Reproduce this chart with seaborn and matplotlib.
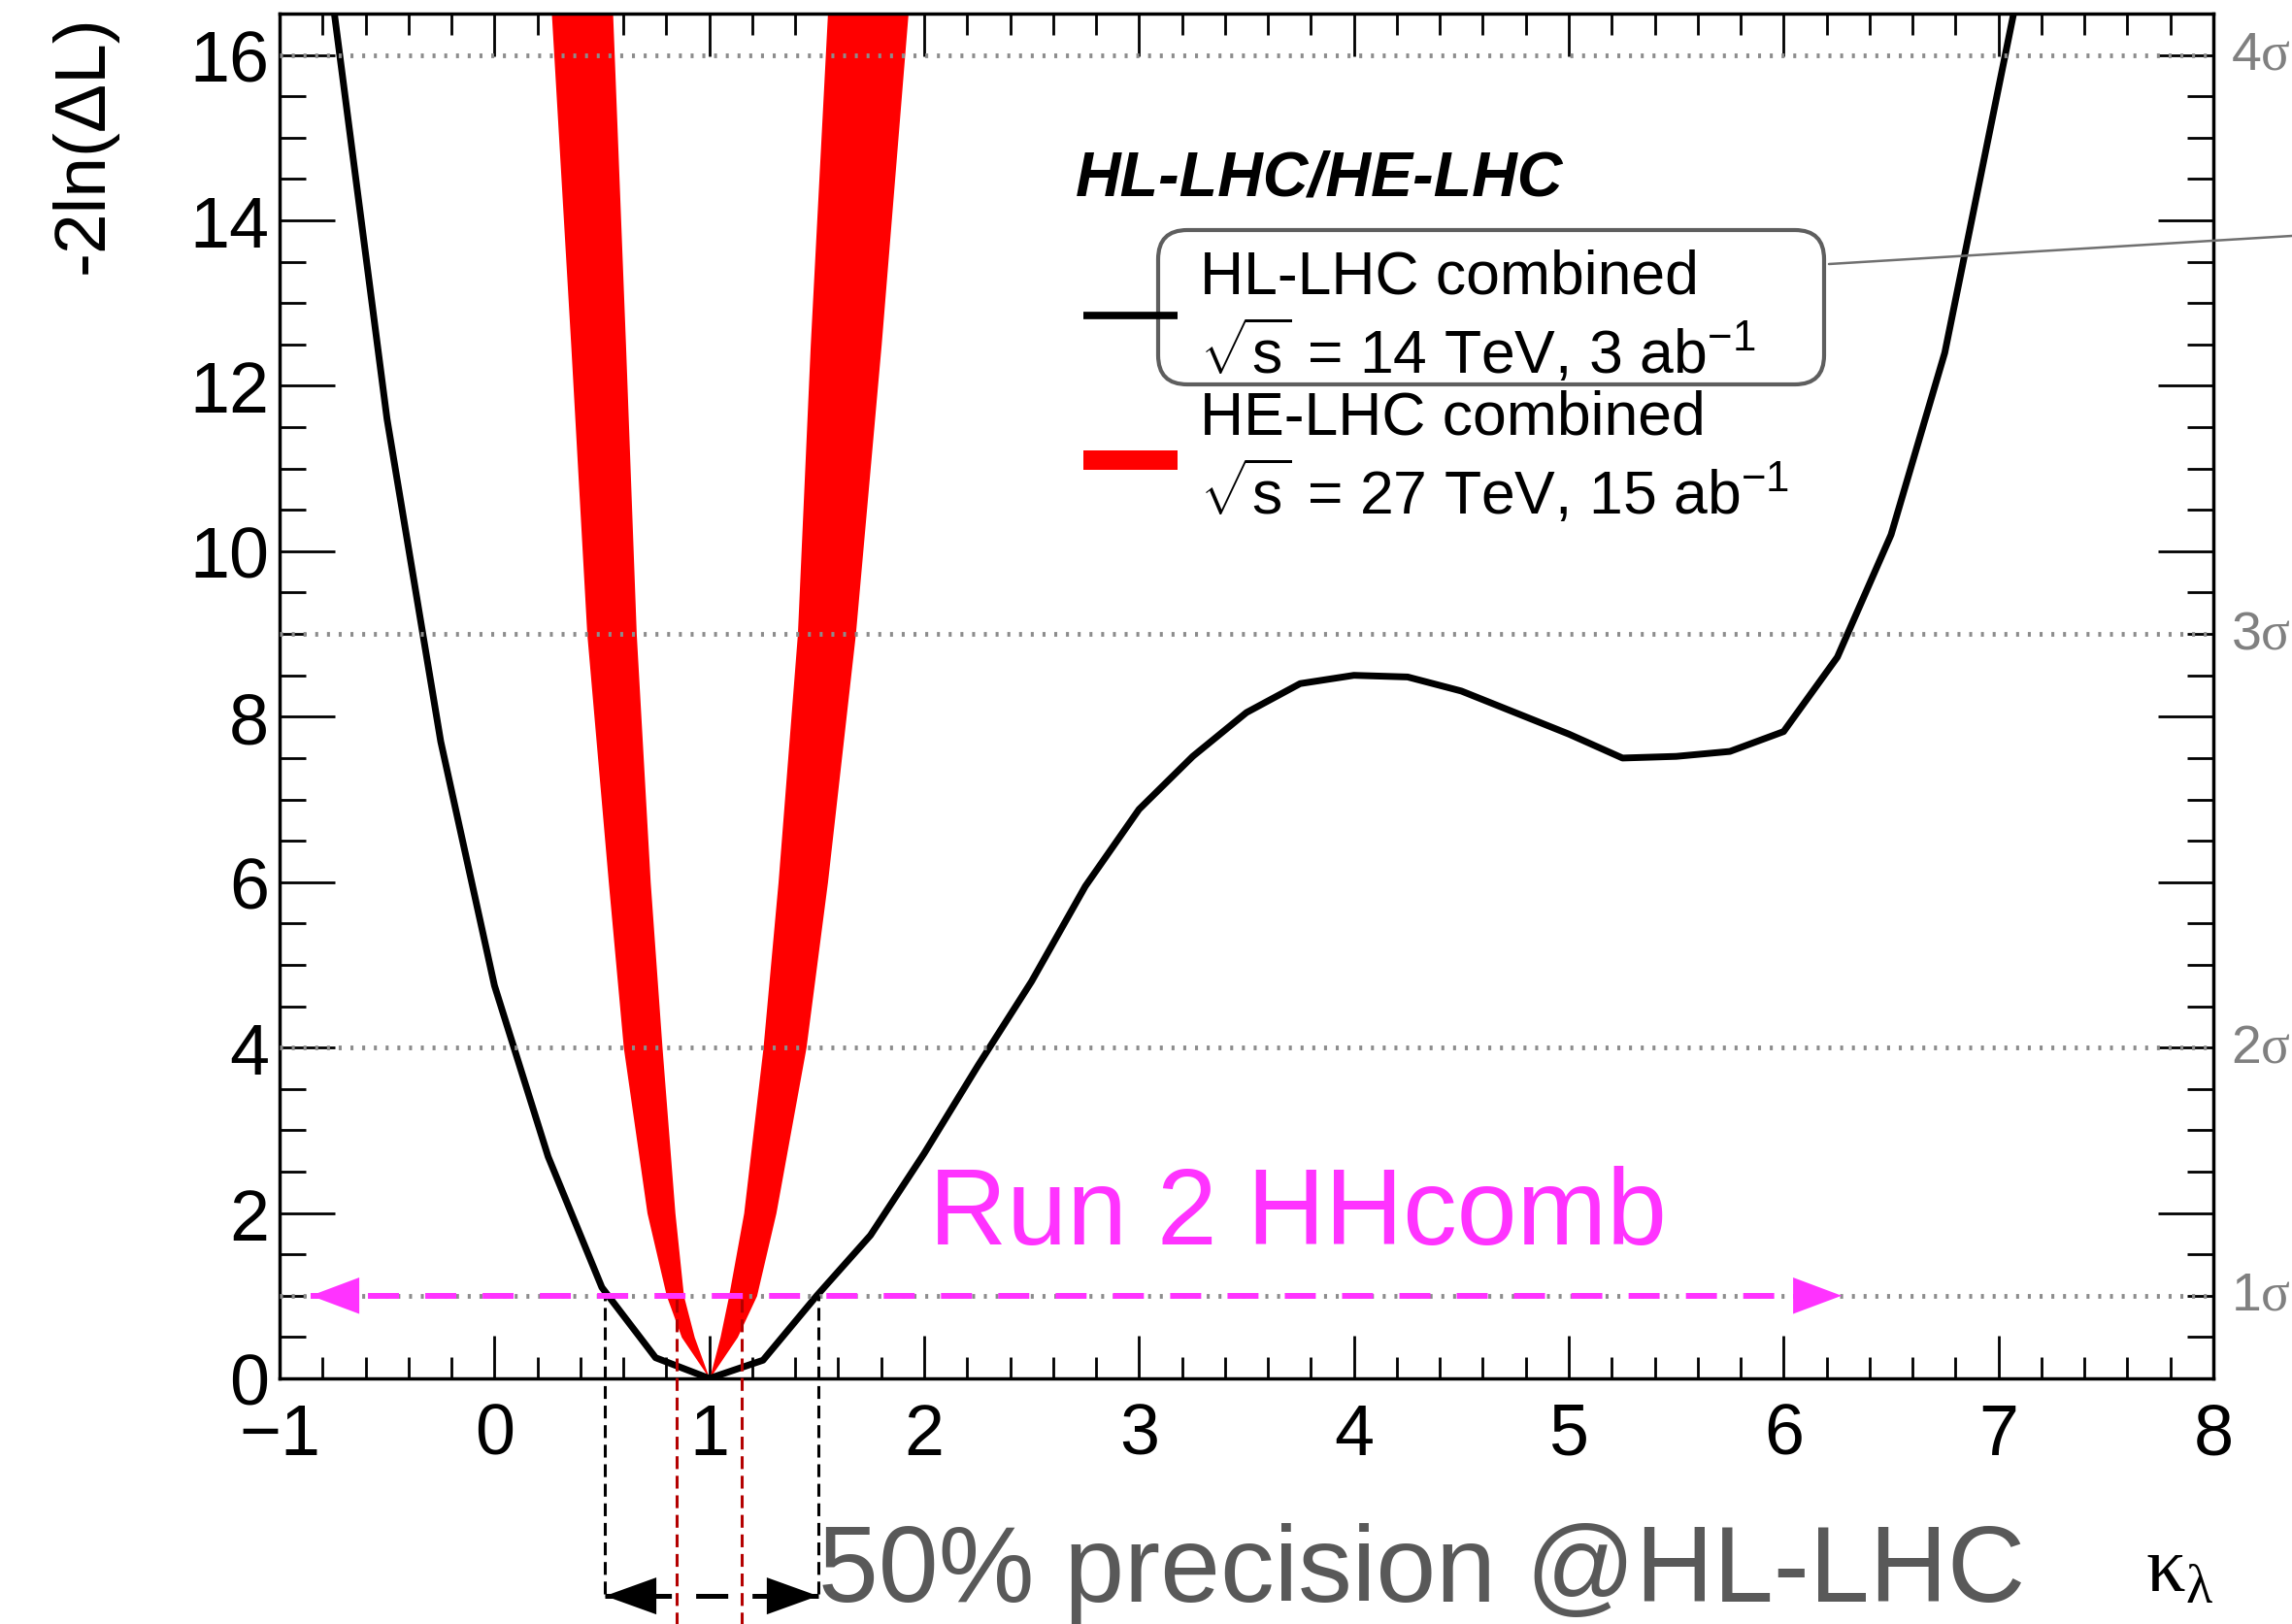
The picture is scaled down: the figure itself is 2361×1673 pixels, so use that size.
import matplotlib
matplotlib.use('Agg')
import numpy as np
import pandas as pd
import seaborn as sns
from matplotlib import pyplot as plt
from matplotlib.patches import FancyBboxPatch
from matplotlib.lines import Line2D
from matplotlib.ticker import MultipleLocator

# HL-LHC combined scan of -2ln(dL) versus kappa_lambda (black curve)
kappa_hl = [-0.75, -0.5, -0.25, 0.0, 0.25, 0.5, 0.75, 1.0, 1.25, 1.5, 1.75, 2.0,
            2.25, 2.5, 2.75, 3.0, 3.25, 3.5, 3.75, 4.0, 4.25, 4.5, 4.75, 5.0,
            5.25, 5.5, 5.75, 6.0, 6.25, 6.5, 6.75, 7.0, 7.25]
nll_hl = [16.6, 11.6, 7.7, 4.75, 2.68, 1.1, 0.25, 0.0, 0.22, 1.0, 1.73, 2.72,
          3.78, 4.8, 5.95, 6.88, 7.52, 8.05, 8.4, 8.5, 8.48, 8.31, 8.05, 7.79,
          7.5, 7.52, 7.58, 7.82, 8.72, 10.2, 12.4, 15.6, 18.8]

# HE-LHC combined band: kappa of the four band edges at given -2ln(dL) levels
nll_he = [0.0, 0.5, 1.0, 2.0, 4.0, 6.0, 9.0, 12.5, 16.5]
he_left_outer = [1.0, 0.87, 0.80, 0.71, 0.60, 0.53, 0.43, 0.355, 0.265]
he_left_inner = [1.0, 0.93, 0.88, 0.84, 0.78, 0.725, 0.66, 0.61, 0.55]
he_right_inner = [1.0, 1.05, 1.09, 1.16, 1.25, 1.32, 1.41, 1.47, 1.55]
he_right_outer = [1.0, 1.13, 1.22, 1.31, 1.45, 1.55, 1.68, 1.80, 1.925]

sigma_levels = [1, 4, 9, 16]
sigma_labels = [r'1$\mathsf{\sigma}$', r'2$\mathsf{\sigma}$',
                r'3$\mathsf{\sigma}$', r'4$\mathsf{\sigma}$']

# 1 sigma intervals
hl_1sigma = [0.515, 1.506]
he_1sigma = [0.85, 1.15]
# Run 2 HH combination 1 sigma range
run2_range = [-0.855, 6.27]

legend_rows = ['HL-LHC combined', r'$\sqrt{\mathrm{s}}$ = 14 TeV, 3 ab$^{-1}$',
               'HE-LHC combined', r'$\sqrt{\mathrm{s}}$ = 27 TeV, 15 ab$^{-1}$']

magenta = '#ff33ff'
W, H = 2361, 1674


def at(X, Y):
    """pixel position (from top left) -> inches for fig.dpi_scale_trans"""
    return X / 100.0, (H - Y) / 100.0


sns.set_style('ticks', {'axes.edgecolor': 'black', 'xtick.color': 'black',
                        'ytick.color': 'black', 'text.color': 'black',
                        'axes.labelcolor': 'black'})
plt.rcParams['font.family'] = ['Liberation Sans', 'DejaVu Sans']
plt.rcParams['mathtext.fontset'] = 'custom'
plt.rcParams['mathtext.rm'] = 'Liberation Sans'
plt.rcParams['mathtext.it'] = 'Liberation Sans:italic'
plt.rcParams['mathtext.bf'] = 'Liberation Sans:bold'
plt.rcParams['mathtext.sf'] = 'Liberation Serif'
plt.rcParams['lines.scale_dashes'] = False

fig = plt.figure(figsize=(W / 100, H / 100), dpi=100)
ax = fig.add_axes([288 / W, (H - 1421) / H, 1992 / W, 1406 / H])

# HE-LHC band
ax.fill_betweenx(nll_he, he_left_outer, he_left_inner, color='red', lw=0, zorder=1)
ax.fill_betweenx(nll_he, he_right_inner, he_right_outer, color='red', lw=0, zorder=1)

# HL-LHC curve
hl = pd.DataFrame({'kappa': kappa_hl, 'nll': nll_hl})
sns.lineplot(data=hl, x='kappa', y='nll', color='black', linewidth=5,
             estimator=None, sort=False, ax=ax, zorder=2)

# sigma reference lines
for lvl, lab in zip(sigma_levels, sigma_labels):
    ax.axhline(lvl, color='#8c8c8c', lw=3.5, ls=(0, (2.2, 6.5)), zorder=3)
    ax.text(1.009, lvl, lab, transform=ax.get_yaxis_transform(), fontsize=40,
            color='#808080', va='center', ha='left', clip_on=False)

# 1 sigma intervals projected down
ax.vlines(hl_1sigma, -2.61, 1.0, colors='black', lw=2.2, linestyles=[(0, (9.5, 5))],
          clip_on=False, zorder=4)
ax.vlines(he_1sigma, -3.2, 1.0, colors='#b40000', lw=2.2, linestyles=[(0, (9.5, 5))],
          clip_on=False, zorder=4)

# double arrow under the axis
y_arr = -2.63
ax.plot(hl_1sigma, [y_arr, y_arr], color='black', lw=3.6, ls=(16.2, (23.8, 18)),
        clip_on=False, zorder=4)
for tip, back in [(hl_1sigma[0], hl_1sigma[0] + 0.4), (hl_1sigma[1], hl_1sigma[1] - 0.4)]:
    ax.annotate('', xy=(tip, y_arr), xytext=(back, y_arr), annotation_clip=False,
                arrowprops=dict(arrowstyle='-|>,head_length=38,head_width=13.7',
                                color='black', lw=0, mutation_scale=1,
                                shrinkA=0, shrinkB=0))

# Run 2 range
ax.plot(run2_range, [1, 1], color=magenta, lw=4.3, ls=(0, (23, 19.5)), zorder=5)
for tip, back in [(run2_range[0], run2_range[0] + 0.5), (run2_range[1], run2_range[1] - 0.5)]:
    ax.annotate('', xy=(tip, 1), xytext=(back, 1),
                arrowprops=dict(arrowstyle='-|>,head_length=36,head_width=13.5',
                                color=magenta, lw=0, mutation_scale=1,
                                shrinkA=0, shrinkB=0), zorder=6)

# axes
ax.set_xlim(-1, 8)
ax.set_ylim(0, 16.5)
ax.xaxis.set_major_locator(MultipleLocator(1))
ax.xaxis.set_minor_locator(MultipleLocator(0.2))
ax.yaxis.set_major_locator(MultipleLocator(2))
ax.yaxis.set_minor_locator(MultipleLocator(0.5))
ax.tick_params(which='both', direction='in', top=True, right=True, width=2)
ax.tick_params(axis='x', which='major', length=32, labelsize=53, pad=17)
ax.tick_params(axis='x', which='minor', length=16)
ax.tick_params(axis='y', which='major', length=41, labelsize=53, pad=8)
ax.tick_params(axis='y', which='minor', length=19.5)
for s in ax.spines.values():
    s.set_linewidth(2.5)
ax.grid(False)

ax.set_ylabel('-2ln(ΔL)', fontsize=54, loc='top')
ax.yaxis.set_label_coords(-0.084, 1.0)
ax.set_xlabel(r'$\mathsf{\kappa}_{\mathsf{\lambda}}$', fontsize=58, loc='right')
ax.xaxis.set_label_coords(1.0, -0.113)

# legend
tr = fig.dpi_scale_trans
fig.text(*at(1108, 202), 'HL-LHC/HE-LHC', transform=tr, fontsize=46.5,
         fontweight='bold', fontstyle='italic', va='baseline')
for row, yb in zip(legend_rows, [303, 385, 448, 530]):
    fig.text(*at(1236, yb), row, transform=tr, fontsize=45, va='baseline')
x0, y0 = at(1116, 326)
x1, _ = at(1213, 326)
fig.add_artist(Line2D([x0, x1], [y0, y0], transform=tr, color='black', lw=5.5,
                      solid_capstyle='butt'))
x0, y0 = at(1116, 475)
fig.add_artist(Line2D([x0, x1], [y0, y0], transform=tr, color='red', lw=14.4,
                      solid_capstyle='butt'))

# highlight box around the HL-LHC entry
bx, by = at(1193, 397)
fig.add_artist(FancyBboxPatch((bx, by), 6.86, 1.59, transform=tr,
                              boxstyle='round,pad=0,rounding_size=0.3',
                              fc='none', ec='#5e5e5e', lw=3))
lx0, ly0 = at(1884, 273)
lx1, ly1 = at(2361, 244)
fig.add_artist(Line2D([lx0, lx1], [ly0, ly1], transform=tr, color='#707070', lw=1.8))

fig.text(*at(957, 1282), 'Run 2 HHcomb', transform=tr, fontsize=80,
         color=magenta, va='baseline')
fig.text(*at(843, 1650), '50% precision @HL-LHC', transform=tr, fontsize=80,
         color='#595959', va='baseline')

fig.savefig('out.png', dpi=100)
